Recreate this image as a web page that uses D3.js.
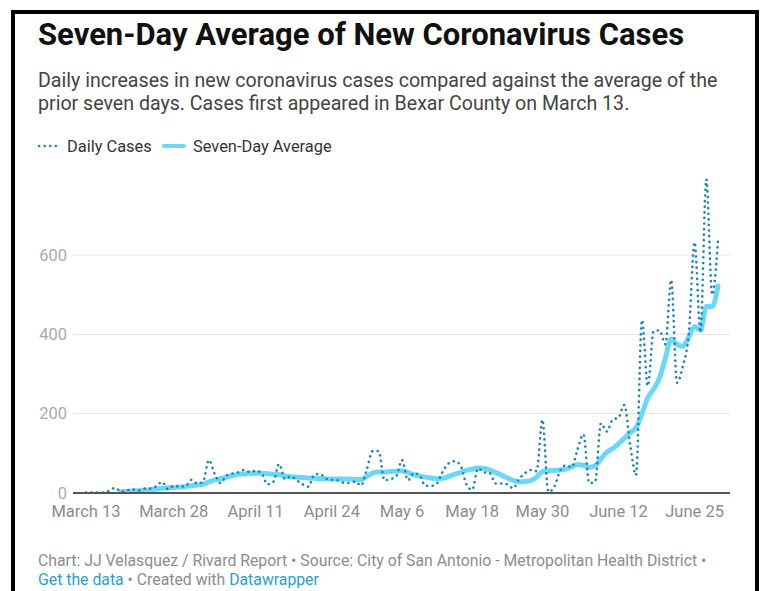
<!DOCTYPE html>
<meta charset="utf-8">
<script src="https://d3js.org/d3.v7.min.js"></script>
<style>
  body { margin: 0; background: #fff; }
  text { font-family: Roboto, "Noto Sans", sans-serif; }
</style>
<div id="chart"></div>
<script>

// daily new cases, one value per day starting March 13
var startDate = new Date(2020, 2, 13);
var dailyCases = [
  1, 1, 1, 1, 6, 13, 3, 7, 9, 6,
  11, 11, 17, 28, 10, 18, 16, 17, 33, 24,
  28, 83, 48, 25, 44, 49, 52, 58, 53, 56,
  50, 22, 28, 73, 35, 42, 32, 22, 16, 46,
  48, 36, 33, 32, 26, 25, 29, 19, 60, 106,
  106, 32, 35, 42, 83, 32, 50, 45, 18, 18,
  25, 55, 75, 80, 70, 22, 8, 62, 52, 50,
  24, 24, 22, 12, 35, 50, 58, 55, 185, 3,
  15, 55, 70, 65, 110, 148, 25, 28, 176, 155,
  185, 190, 222, 120, 45, 436, 270, 408, 410, 375,
  537, 278, 320, 400, 632, 405, 790, 500, 638
];

// seven-day average, starts on day 6 (March 19)
var avgStart = 6;
var sevenDayAvg = [
  3, 4, 5, 6, 7, 8, 10, 12, 13, 14,
  15, 16, 18, 20, 22, 28, 33, 36, 40, 44,
  47, 48, 49, 50, 50, 49, 47, 46, 43, 41,
  40, 39, 38, 37, 36, 36, 35, 35, 35, 35,
  34, 34, 42, 50, 53, 53, 54, 55, 56, 52,
  46, 43, 40, 38, 36, 37, 42, 47, 52, 57,
  60, 63, 62, 58, 52, 45, 38, 32, 28, 29,
  31, 40, 54, 56, 57, 58, 60, 66, 72, 70,
  65, 69, 86, 103, 112, 124, 138, 152, 165, 200,
  240, 262, 290, 340, 388, 375, 370, 393, 420, 410,
  470, 470, 522
];

var yTicks = [0, 200, 400, 600];
var xTickLabels = ["March 13", "March 28", "April 11", "April 24", "May 6",
                   "May 18", "May 30", "June 12", "June 25"];
var xTickDates = [new Date(2020, 2, 13), new Date(2020, 2, 28), new Date(2020, 3, 11),
                  new Date(2020, 3, 24), new Date(2020, 4, 6), new Date(2020, 4, 18),
                  new Date(2020, 4, 30), new Date(2020, 5, 12), new Date(2020, 5, 25)];

var daily = dailyCases.map(function(v, i) { return {date: d3.timeDay.offset(startDate, i), value: v}; });
var avg = sevenDayAvg.map(function(v, i) { return {date: d3.timeDay.offset(startDate, avgStart + i), value: v}; });

var width = 768, height = 591;
var plotLeft = 73, plotRight = 730;

var svg = d3.select("#chart").append("svg")
  .attr("width", width)
  .attr("height", height);

svg.append("rect").attr("width", width).attr("height", height).attr("fill", "#fff");

// frame
svg.append("rect")
  .attr("x", 13).attr("y", 12)
  .attr("width", 744).attr("height", 620)
  .attr("fill", "none")
  .attr("stroke", "#000")
  .attr("stroke-width", 4);

// title + description
svg.append("text")
  .attr("x", 38).attr("y", 45)
  .attr("font-size", 31).attr("font-weight", 700).attr("fill", "#111")
  .text("Seven-Day Average of New Coronavirus Cases");

var desc = ["Daily increases in new coronavirus cases compared against the average of the",
            "prior seven days. Cases first appeared in Bexar County on March 13."];
svg.selectAll(".desc").data(desc).enter().append("text")
  .attr("x", 38).attr("y", function(d, i) { return 87 + i * 23; })
  .attr("font-size", 19.6).attr("fill", "#444")
  .text(function(d) { return d; });

// legend
var leg = svg.append("g").attr("transform", "translate(38,146)");
leg.append("line").attr("x1", 1).attr("x2", 20).attr("y1", 0).attr("y2", 0)
  .attr("stroke", "#1d86b3").attr("stroke-width", 2.6)
  .attr("stroke-linecap", "round").attr("stroke-dasharray", "0.1 5.5");
leg.append("text").attr("x", 29).attr("y", 5.5).attr("font-size", 16.4).attr("fill", "#333")
  .text("Daily Cases");
leg.append("line").attr("x1", 126).attr("x2", 146).attr("y1", 0).attr("y2", 0)
  .attr("stroke", "#6cd8f8").attr("stroke-width", 4).attr("stroke-linecap", "round");
leg.append("text").attr("x", 155).attr("y", 5.5).attr("font-size", 16.4).attr("fill", "#333")
  .text("Seven-Day Average");

// scales
var x = d3.scaleTime()
  .domain([startDate, daily[daily.length - 1].date])
  .range([86, 718]);
var y = d3.scaleLinear().domain([0, 600]).range([493, 255]);

// grid + y labels
svg.selectAll(".grid").data(yTicks.filter(function(d) { return d > 0; })).enter().append("line")
  .attr("x1", plotLeft).attr("x2", plotRight)
  .attr("y1", function(d) { return y(d); }).attr("y2", function(d) { return y(d); })
  .attr("stroke", "#e3e3e3").attr("stroke-width", 1);

svg.selectAll(".ylab").data(yTicks).enter().append("text")
  .attr("x", 67).attr("y", function(d) { return y(d); })
  .attr("dy", "0.35em")
  .attr("text-anchor", "end")
  .attr("font-size", 16.5).attr("fill", "#aaa")
  .text(function(d) { return d; });

// x labels
svg.selectAll(".xlab").data(xTickDates).enter().append("text")
  .attr("x", function(d) { return x(d); }).attr("y", 517)
  .attr("text-anchor", "middle")
  .attr("font-size", 16.5).attr("fill", "#8c8c8c")
  .text(function(d, i) { return xTickLabels[i]; });

// lines
var line = d3.line()
  .x(function(d) { return x(d.date); })
  .y(function(d) { return y(d.value); })
  .curve(d3.curveMonotoneX);

svg.append("path").datum(avg)
  .attr("d", line)
  .attr("fill", "none")
  .attr("stroke", "#6cd8f8")
  .attr("stroke-width", 5)
  .attr("stroke-linejoin", "round")
  .attr("stroke-linecap", "round");

svg.append("path").datum(daily)
  .attr("d", line)
  .attr("fill", "none")
  .attr("stroke", "#1d86b3")
  .attr("stroke-width", 2.6)
  .attr("stroke-linecap", "round")
  .attr("stroke-dasharray", "0.1 5.5");

// baseline
svg.append("line")
  .attr("x1", plotLeft).attr("x2", plotRight)
  .attr("y1", y(0)).attr("y2", y(0))
  .attr("stroke", "#555").attr("stroke-width", 2);

// footer
var foot = svg.append("text").attr("x", 38).attr("y", 566).attr("font-size", 15.8).attr("fill", "#8c8c8c");
foot.text("Chart: JJ Velasquez / Rivard Report \u2022 Source: City of San Antonio - Metropolitan Health District \u2022");
var foot2 = svg.append("text").attr("x", 38).attr("y", 585).attr("font-size", 15.8).attr("fill", "#8c8c8c");
foot2.append("tspan").attr("fill", "#2a9fd0").text("Get the data");
foot2.append("tspan").text(" \u2022 Created with ");
foot2.append("tspan").attr("fill", "#2a9fd0").text("Datawrapper");

</script>
